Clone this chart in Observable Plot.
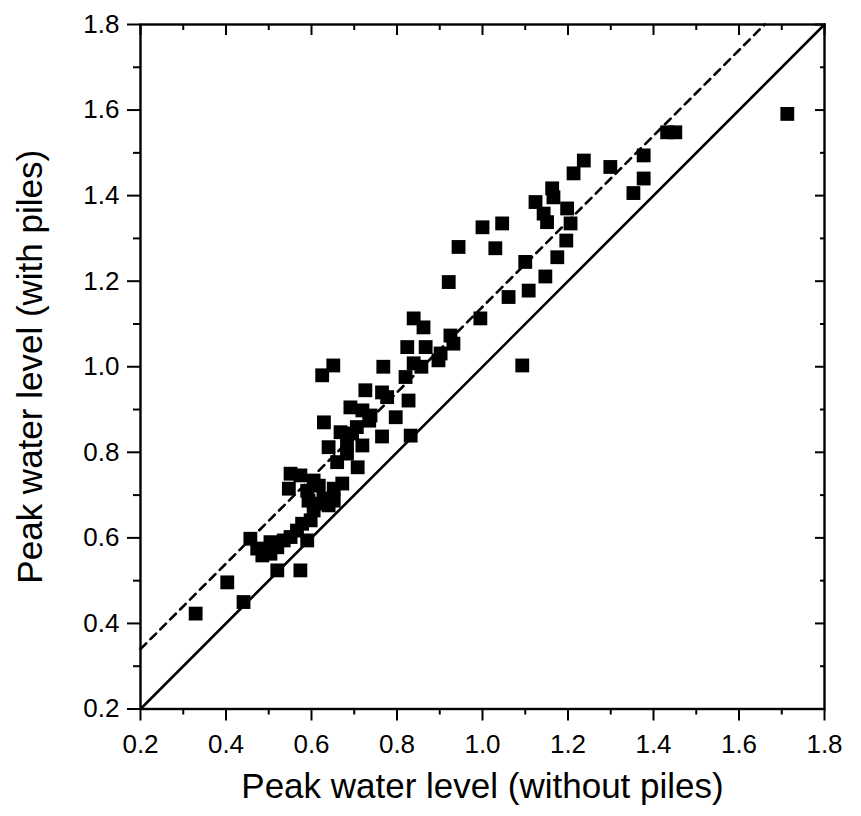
<!DOCTYPE html>
<html>
<head>
<meta charset="utf-8">
<script src="https://cdn.jsdelivr.net/npm/d3@7"></script>
<script src="https://cdn.jsdelivr.net/npm/@observablehq/plot@0.6"></script>
<style>
  html, body { margin: 0; padding: 0; background: #fff; }
  #chart svg { display: block; }
  #chart g[aria-label="x-axis tick label"], #chart g[aria-label="y-axis tick label"] { font-size: 26px !important; }
  #chart g[aria-label="x-axis tick label"] text, #chart g[aria-label="y-axis tick label"] text { font-size: 26px !important; }
</style>
</head>
<body>
<div id="chart"></div>
<script>
// Peak water level without piles (x) and with piles (y)
const withoutPiles = [
  0.329,0.403,0.441,0.520,0.574,0.590,0.457,0.473,0.485,0.504,0.520,0.504,0.535,0.551,0.566,0.578,0.598,0.605,0.613,0.628,0.593,0.590,0.617,0.652,0.672,0.547,0.652,0.640,
  0.625,0.651,0.768,0.820,0.827,0.726,0.765,0.777,0.691,0.719,0.738,0.735,0.797,0.629,0.668,0.695,0.706,0.765,0.832,0.640,0.683,0.719,0.660,0.683,0.708,0.551,0.574,0.605,
  1.000,1.046,0.944,1.030,0.921,1.100,1.147,1.175,1.196,1.206,1.198,1.151,1.143,1.124,1.108,1.061,0.995,0.839,0.862,0.925,0.932,0.824,0.867,0.902,0.897,0.839,0.857,1.093,
  1.237,1.213,1.299,1.163,1.166,1.377,1.377,1.353,1.432,1.451,1.713
];
const withPiles = [
  0.423,0.496,0.450,0.524,0.524,0.594,0.598,0.575,0.559,0.563,0.578,0.590,0.594,0.602,0.617,0.633,0.641,0.664,0.680,0.692,0.687,0.710,0.722,0.715,0.727,0.715,0.687,0.676,
  0.980,1.003,1.000,0.976,0.921,0.945,0.940,0.929,0.905,0.898,0.886,0.874,0.882,0.870,0.847,0.844,0.859,0.837,0.839,0.812,0.820,0.816,0.777,0.797,0.765,0.750,0.746,0.734,
  1.326,1.335,1.280,1.277,1.198,1.245,1.211,1.256,1.295,1.335,1.370,1.338,1.358,1.385,1.178,1.163,1.113,1.113,1.092,1.073,1.054,1.046,1.046,1.031,1.015,1.008,1.000,1.003,
  1.482,1.452,1.467,1.417,1.396,1.494,1.440,1.406,1.548,1.548,1.591
];
// Reference line y = x and dashed offset line y = x + offset
const identityX = [0.2, 1.8];
const fitX = [0.2, 1.66];
const fitOffset = 0.14;
// Axis ticks
const majorTicks = [0.2, 0.4, 0.6, 0.8, 1.0, 1.2, 1.4, 1.6, 1.8];
const minorTicks = [0.3, 0.5, 0.7, 0.9, 1.1, 1.3, 1.5, 1.7];
const xTitle = "Peak water level (without piles)";
const yTitle = "Peak water level (with piles)";

const points = withoutPiles.map((x, i) => ({x, y: withPiles[i]}));
const identity = identityX.map(x => ({x, y: x}));
const fit = fitX.map(x => ({x, y: x + fitOffset}));

const font = "'Liberation Sans', Arial, sans-serif";

const chart = Plot.plot({
  width: 861,
  height: 816,
  marginLeft: 140,
  marginTop: 24,
  marginRight: 37,
  marginBottom: 107.5,
  style: {fontFamily: font, fontSize: "26px", color: "#000", background: "#fff"},
  x: {domain: [0.2, 1.8]},
  y: {domain: [0.2, 1.8]},
  marks: [
    Plot.line(identity, {x: "x", y: "y", stroke: "#000", strokeWidth: 2.6}),
    Plot.line(fit, {x: "x", y: "y", stroke: "#000", strokeWidth: 2.6, strokeDasharray: "8,6"}),
    Plot.dot(points, {x: "x", y: "y", symbol: "square", r: 7.8, fill: "#000", stroke: "none"}),
    // bottom axis
    Plot.axisX({anchor: "bottom", ticks: majorTicks, tickSize: 12, tickPadding: 14, tickFormat: d3.format(".1f"), fontSize: 26, strokeWidth: 2, label: null}),
    Plot.axisX({anchor: "bottom", ticks: minorTicks, tickSize: 6, text: null, strokeWidth: 2, label: null}),
    // top axis (inward)
    Plot.axisX({anchor: "top", ticks: majorTicks, tickSize: -10, text: null, strokeWidth: 2, label: null}),
    Plot.axisX({anchor: "top", ticks: minorTicks, tickSize: -5, text: null, strokeWidth: 2, label: null}),
    // left axis
    Plot.axisY({anchor: "left", ticks: majorTicks, tickSize: 13, tickPadding: 8, tickFormat: d3.format(".1f"), fontSize: 26, strokeWidth: 2, label: null}),
    Plot.axisY({anchor: "left", ticks: minorTicks, tickSize: 7, text: null, strokeWidth: 2, label: null}),
    // right axis (inward)
    Plot.axisY({anchor: "right", ticks: majorTicks, tickSize: -10, text: null, strokeWidth: 2, label: null}),
    Plot.axisY({anchor: "right", ticks: minorTicks, tickSize: -5, text: null, strokeWidth: 2, label: null}),
    Plot.frame({stroke: "#000", strokeWidth: 2.4}),
    Plot.text([xTitle], {frameAnchor: "bottom", dy: 89, text: d => d, fontSize: 35, fill: "#000", textAnchor: "middle"}),
    Plot.text([yTitle], {frameAnchor: "left", dx: -110, rotate: -90, text: d => d, fontSize: 35, fill: "#000", textAnchor: "middle"})
  ]
});
document.getElementById("chart").appendChild(chart);
</script>
</body>
</html>
